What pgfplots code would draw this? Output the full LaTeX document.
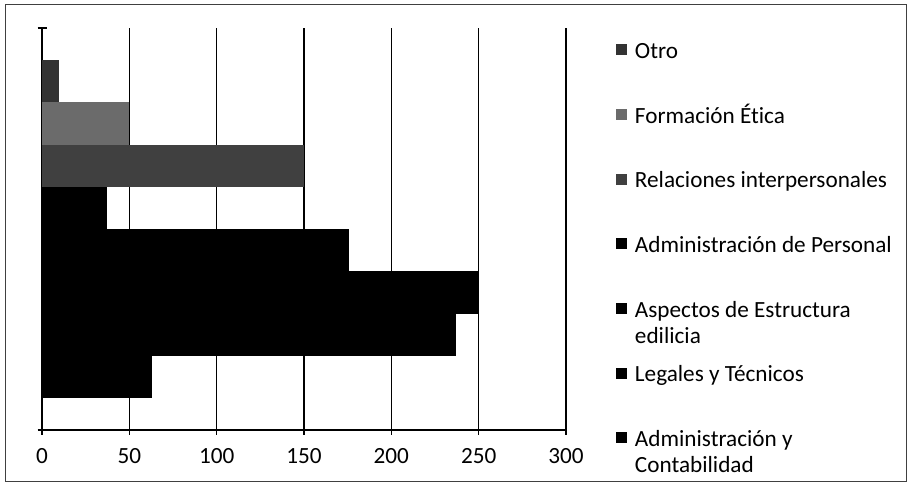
\documentclass[border=0pt]{standalone}
\usepackage{fontspec}
\setmainfont[Ligatures=NoCommon]{Carlito}
\usepackage{pgfplots}
\pgfplotsset{compat=1.18}
\newcommand{\twoline}[2]{\strut\raisebox{0pt}[\height][0pt]{\begin{tabular}[t]{@{}l@{}}#1\\#2\end{tabular}}}
\pgfplotsset{
  mybar/.style={xbar, bar width=1, bar shift=0pt, draw=none, fill=#1,
    legend image code/.code={\fill[#1] (0bp,-5.5bp) rectangle (11bp,5.5bp);}},
}
\begin{document}
\begin{tikzpicture}[font=\fontsize{23.2bp}{26.5bp}\selectfont]
\useasboundingbox (0,0) rectangle (911bp,483bp);
\draw[black!75, line width=1bp] (5bp,1.5bp) rectangle (906bp,478bp);
\begin{axis}[
  at={(42bp,53bp)}, anchor=south west,
  scale only axis, width=524bp, height=402bp,
  xmin=0, xmax=300, ymin=0, ymax=9.515,
  xtick={0,50,...,300},
  ytick={0,9.515}, yticklabels={},
  axis x line*=bottom, axis y line*=left,
  axis line style={black, line width=1.3bp, -},
  tick style={black, line width=1.3bp},
  tick align=center, major tick length=9bp,
  xmajorgrids, grid style={black, line width=1.5bp},
  /pgf/number format/assume math mode=true,
  xticklabel style={yshift=-10bp},
  legend cell align=left,
  legend style={draw=none, fill=none, at={(1.095,0.972)}, anchor=north west,
    row sep=44.5bp, column sep=8bp, inner sep=0pt,
    nodes={inner sep=0pt}},
]
\addplot[mybar=black!80] coordinates {(10,8.254)};
\addlegendentry{\strut Otro}
\addplot[mybar=black!58] coordinates {(50,7.254)};
\addlegendentry{\strut Formación Ética}
\addplot[mybar=black!75] coordinates {(150,6.254)};
\addlegendentry{\strut Relaciones interpersonales}
\addplot[mybar=black] coordinates {(37,5.254)};
\addlegendentry{\strut Administración de Personal}
\addplot[mybar=black] coordinates {(176,4.254)};
\addlegendentry{\twoline{Aspectos de Estructura}{edilicia}}
\addplot[mybar=black] coordinates {(250,3.254)};
\addlegendentry{\strut Legales y Técnicos}
\addplot[mybar=black] coordinates {(237,2.254)};
\addlegendentry{\twoline{Administración y}{Contabilidad}}
\addplot[mybar=black, forget plot] coordinates {(63,1.254)};
\end{axis}
\end{tikzpicture}
\end{document}
